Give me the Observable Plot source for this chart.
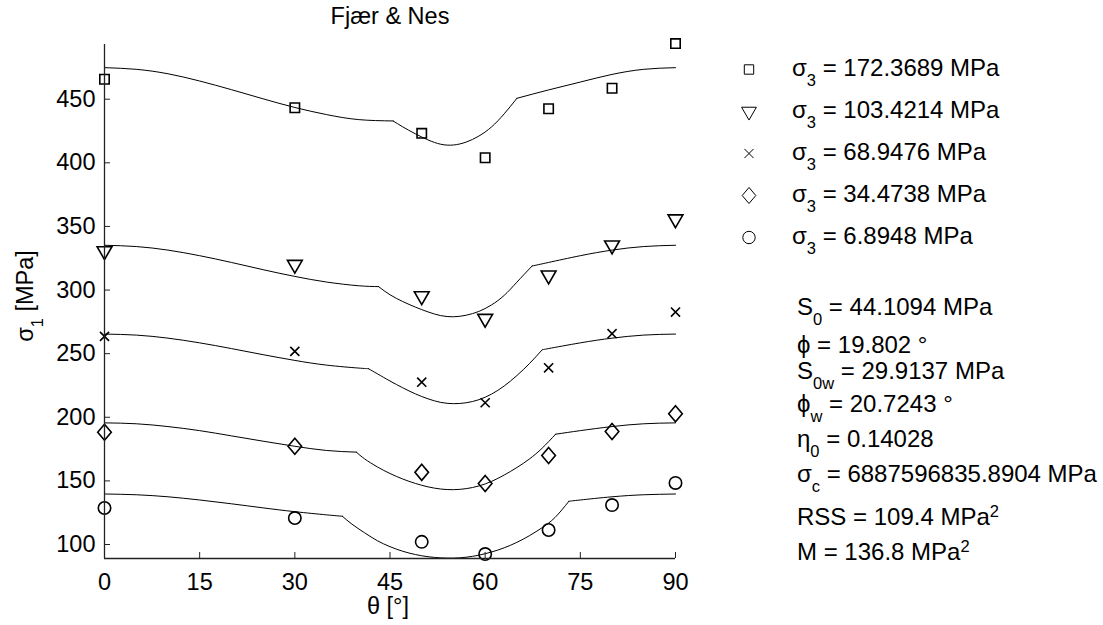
<!DOCTYPE html>
<html><head><meta charset="utf-8">
<script src="https://cdn.jsdelivr.net/npm/d3@7"></script>
<script src="https://cdn.jsdelivr.net/npm/@observablehq/plot@0.6"></script>
<style>
html,body{margin:0;padding:0;background:#fff;}
#chart{width:1103px;height:625px;overflow:hidden;}
</style>
</head><body><div id="chart"></div>
<script>
// ---------- data ----------
const titleText = "Fjær & Nes";
const thetaTicks = [0, 15, 30, 45, 60, 75, 90];
const sigma1Ticks = [100, 150, 200, 250, 300, 350, 400, 450];
const thetaDomain = [0, 90];
const sigma1Domain = [89, 493];
const sigma3Labels = ["172.3689", "103.4214", "68.9476", "34.4738", "6.8948"];

const measTheta = [0, 30, 50, 60, 70, 80, 90];
const meas172 = [465.7, 443.3, 423.2, 404.0, 442.5, 458.6, 493.7];
const meas103 = [330.7, 320.0, 295.3, 277.5, 311.6, 335.2, 355.7];
const meas69  = [263.6, 251.8, 227.6, 211.4, 238.9, 265.7, 282.7];
const meas34  = [188.2, 177.2, 156.7, 148.0, 169.9, 188.8, 202.7];
const meas7   = [128.7, 120.8, 102.1, 92.5, 111.4, 131.0, 148.4];

// fitted curves, [theta, sigma1] per segment (left intact / weak plane / right intact)
const fit172Left  = [[0,474.8],[5,473.5],[10,470.0],[15,464.3],[20,457.5],[25,450.3],[30,443.5],[35,437.9],[40,434.0],[45.5,432.9]];
const fit172Dip   = [[45.5,432.9],[47,428.3],[49,422.8],[51,418.0],[53,414.6],[55,414.0],[57,416.3],[59,421.0],[61,428.2],[63,438.5],[65,450.7]];
const fit172Right = [[65,450.7],[70,457.3],[75,463.5],[80,469.5],[85,473.5],[90,474.8]];

const fit103Left  = [[0,335.2],[5,334.2],[10,331.4],[15,327.0],[20,321.7],[25,316.0],[30,310.7],[35,306.3],[40,303.4],[43.2,302.7]];
const fit103Dip   = [[43.2,302.7],[45,296.3],[47,291.0],[49,286.6],[51,282.8],[53,279.9],[55,279.0],[57,280.2],[59,283.2],[61,288.3],[63,295.8],[65,306.2],[67.4,318.9]];
const fit103Right = [[67.4,318.9],[70,321.7],[75,327.0],[80,331.4],[85,334.2],[90,335.2]];

const fit69Left  = [[0,265.4],[5,264.6],[10,262.2],[15,258.5],[20,254.0],[25,249.2],[30,244.7],[35,241.0],[40,238.7],[41.6,238.2]];
const fit69Dip   = [[41.6,238.2],[43,234.2],[45,228.5],[47,223.2],[49,218.4],[51,214.5],[53,211.7],[55,210.7],[57,211.4],[59,213.8],[61,218.2],[63,224.6],[65,232.8],[67,242.3],[69,253.1]];
const fit69Right = [[69,253.1],[70,254.0],[75,258.5],[80,262.2],[85,264.6],[90,265.4]];

const fit34Left  = [[0,195.6],[5,194.9],[10,192.7],[15,189.5],[20,185.4],[25,181.2],[30,177.2],[35,173.9],[39.7,172.6]];
const fit34Dip   = [[39.7,172.6],[41,167.3],[43,161.0],[45,155.8],[47,151.5],[49,148.0],[51,145.3],[53,143.6],[55,143.1],[57,143.9],[59,146.0],[61,149.6],[63,154.6],[65,160.5],[67,167.3],[69,175.8],[71.1,186.7]];
const fit34Right = [[71.1,186.7],[75,189.5],[80,192.7],[85,194.9],[90,195.6]];

const fit7Left  = [[0,139.7],[5,139.1],[10,137.5],[15,135.0],[20,132.0],[25,128.8],[30,125.8],[35,123.3],[37.5,122.2]];
const fit7Dip   = [[37.5,122.2],[39,116.0],[41,109.2],[43,103.0],[45,98.3],[47,94.7],[49,92.1],[51,90.4],[53,89.5],[55,89.3],[57,90.0],[59,91.6],[61,94.1],[63,97.4],[65,101.7],[67,107.0],[69,113.3],[71,121.2],[73.2,134.0]];
const fit7Right = [[73.2,134.0],[75,135.0],[80,137.5],[85,139.1],[90,139.7]];

const paramLines = [
  [["S",""],["0","sub"],[" = 44.1094 MPa",""]],
  [["ϕ = 19.802 °",""]],
  [["S",""],["0w","sub"],[" = 29.9137 MPa",""]],
  [["ϕ",""],["w","sub"],[" = 20.7243 °",""]],
  [["η",""],["0","sub"],[" = 0.14028",""]],
  [["σ",""],["c","sub"],[" = 6887596835.8904 MPa",""]],
  [["RSS = 109.4 MPa",""],["2","sup"]],
  [["M = 136.8 MPa",""],["2","sup"]]
];

// ---------- styles ----------
const FONT = "'Liberation Sans', Arial, Helvetica, sans-serif";
const diamondSym = {
  draw(ctx, size) {
    const s = Math.sqrt(size / Math.PI);
    const w = s * 1.0, h = s * 1.18;
    ctx.moveTo(0, -h); ctx.lineTo(w, 0); ctx.lineTo(0, h); ctx.lineTo(-w, 0); ctx.closePath();
  }
};
const seriesStyle = [
  {symbol: "square",   d3sym: d3.symbolSquare,   r: 5.3, rotate: 0},
  {symbol: "triangle", d3sym: d3.symbolTriangle, r: 5.5, rotate: 180},
  {symbol: "times",    d3sym: d3.symbolTimes,    r: 4.2, rotate: 0},
  {symbol: diamondSym, d3sym: diamondSym,        r: 6.8, rotate: 0},
  {symbol: "circle",   d3sym: d3.symbolCircle,   r: 6.2, rotate: 0}
];

const measured = [meas172, meas103, meas69, meas34, meas7];
const fits = [
  [fit172Left, fit172Dip, fit172Right],
  [fit103Left, fit103Dip, fit103Right],
  [fit69Left, fit69Dip, fit69Right],
  [fit34Left, fit34Dip, fit34Right],
  [fit7Left, fit7Dip, fit7Right]
];

const fitRows = [];
fits.forEach((segs, i) => segs.forEach((seg, j) => seg.forEach(([t, s]) => fitRows.push({theta: t, sigma: s, key: i + "-" + j}))));

const dotMarks = measured.map((vals, i) => Plot.dot(
  measTheta.map((t, k) => ({theta: t, sigma: vals[k]})),
  {x: "theta", y: "sigma", symbol: seriesStyle[i].symbol, r: seriesStyle[i].r,
   rotate: seriesStyle[i].rotate, stroke: "#000", strokeWidth: 1.6, fill: "none"}
));

const svg = Plot.plot({
  width: 1103, height: 625,
  marginLeft: 104, marginRight: 428, marginTop: 44, marginBottom: 67,
  x: {domain: thetaDomain},
  y: {domain: sigma1Domain},
  style: {fontFamily: FONT, fontSize: "23.5px", color: "#000", background: "#fff", overflow: "visible"},
  marks: [
    Plot.line(fitRows, {x: "theta", y: "sigma", z: "key", curve: "natural", stroke: "#000", strokeWidth: 1}),
    ...dotMarks,
    Plot.ruleX([thetaDomain[0]], {stroke: "#222", strokeWidth: 1.3}),
    Plot.ruleY([sigma1Domain[0]], {stroke: "#222", strokeWidth: 1.3}),
    Plot.axisX({ticks: thetaTicks, tickSize: -6, tickPadding: 21, label: null, tickFormat: d => String(d), stroke: "#222"}),
    Plot.axisY({ticks: sigma1Ticks, tickSize: -6, tickPadding: 15, label: null, tickFormat: d => String(d), stroke: "#222"})
  ]
});
document.getElementById("chart").appendChild(svg);

// ---------- annotations (title, axis labels, legend, fit parameters) ----------
const root = d3.select(svg);
function richText(g, x, y, parts, size, anchor) {
  const t = g.append("text").attr("x", x).attr("y", y)
    .attr("font-family", FONT).attr("font-size", size).attr("fill", "#000")
    .attr("text-anchor", anchor || "start");
  let shift = 0;
  parts.forEach(([txt, kind]) => {
    const target = kind === "sub" ? 10 : kind === "sup" ? -8 : 0;
    const ts = t.append("tspan").attr("dy", target - shift).text(txt);
    if (kind) ts.attr("font-size", 16.5);
    shift = target;
  });
  return t;
}
const ann = root.append("g");
richText(ann, 390, 24, [[titleText, ""]], 23.5, "middle");
richText(ann, 388, 614, [["θ [°]", ""]], 23.5, "middle");
const yl = ann.append("g").attr("transform", "translate(33,296) rotate(-90)");
richText(yl, 0, 0, [["σ", ""], ["1", "sub"], [" [MPa]", ""]], 23.5, "middle");

const legend = ann.append("g");
sigma3Labels.forEach((lab, i) => {
  const cy = 69.5 + 42 * i;
  const st = seriesStyle[i];
  legend.append("path")
    .attr("d", d3.symbol().type(st.d3sym).size(Math.PI * st.r * st.r)())
    .attr("transform", `translate(749,${cy}) rotate(${st.rotate})`)
    .attr("fill", "none").attr("stroke", "#000").attr("stroke-width", 1);
  richText(legend, 792, cy + 6, [["σ", ""], ["3", "sub"], [" = " + lab + " MPa", ""]], 24, "start");
});

const paramBaselines = [315, 353, 379, 412, 447, 482, 525, 560];
paramLines.forEach((parts, i) => richText(ann, 797, paramBaselines[i], parts, 24, "start"));
</script>
</body></html>
